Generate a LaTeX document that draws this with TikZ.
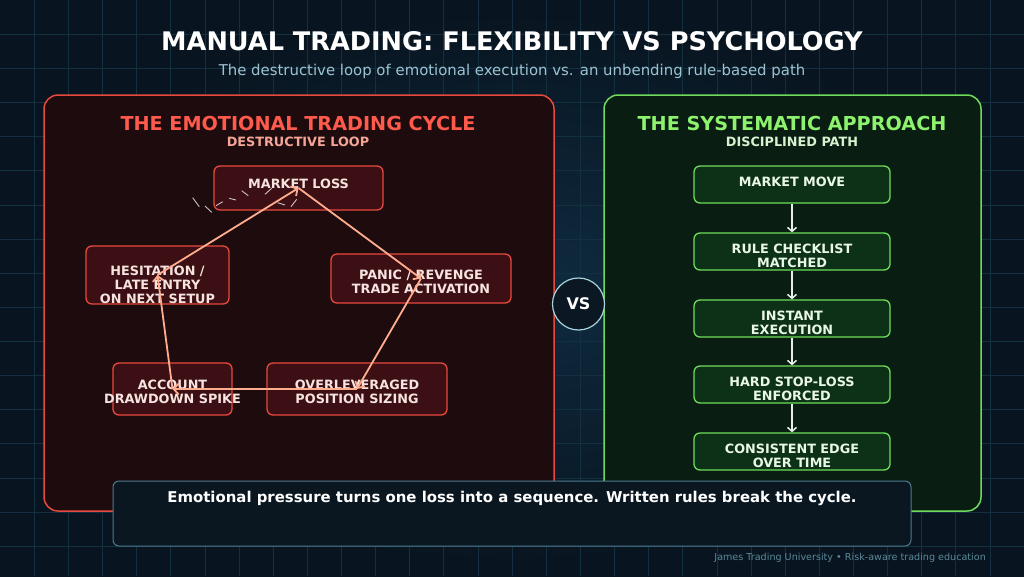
\documentclass[tikz,border=0pt]{standalone}
\usepackage{fontspec}
\setmainfont{DejaVu Sans}
\usetikzlibrary{arrows.meta}

\definecolor{bgedge}{HTML}{08141F}
\definecolor{bgmid}{HTML}{0F2B40}
\definecolor{gridcol}{HTML}{12303F}
\definecolor{lossline}{HTML}{E8493D}
\definecolor{lossbg}{HTML}{1D0B0D}
\definecolor{lossfill}{HTML}{3B0F13}
\definecolor{losstitle}{HTML}{FF5A4C}
\definecolor{losssub}{HTML}{F4A597}
\definecolor{losstext}{HTML}{F7E4E0}
\definecolor{cyclecol}{HTML}{FFAD8E}
\definecolor{sysline}{HTML}{6EDC5A}
\definecolor{sysbg}{HTML}{0A1D12}
\definecolor{sysfill}{HTML}{0C3116}
\definecolor{systitle}{HTML}{8DF26E}
\definecolor{syssub}{HTML}{D6F2CE}
\definecolor{systext}{HTML}{E9F7E5}
\definecolor{flowcol}{HTML}{E6F0E6}
\definecolor{vsline}{HTML}{A6D4DD}
\definecolor{vsfill}{HTML}{0B1722}
\definecolor{noteline}{HTML}{4D7C90}
\definecolor{notefill}{HTML}{0B1720}
\definecolor{subcol}{HTML}{9CC3D2}
\definecolor{footcol}{HTML}{5B8A9A}

\newcommand\boxfont{\bfseries\fontsize{12.8}{14}\selectfont}
\newcommand\headfont{\bfseries\fontsize{19.2}{22}\selectfont}

\tikzset{gridline/.style={draw=gridcol, line width=0.5pt}}
\tikzset{panel/.style={rounded corners=14pt, line width=1.5pt}}

\begin{document}
\begin{tikzpicture}[
		x=1pt, y=-1pt,
		cyclebox/.style 2 args={draw=lossline, fill=lossfill, rounded corners=6pt,
			line width=1.3pt, minimum width=#1, minimum height=#2, inner sep=0pt},
		cycletext/.style={text=losstext, font=\boxfont, align=center, inner sep=0pt, anchor=north},
		cyclearrow/.style={draw=cyclecol, line width=1.8pt,
			-{Straight Barb[length=5pt, width=11pt, line width=1.8pt]}},
		flowbox/.style={draw=sysline, fill=sysfill, rounded corners=6pt,
			line width=1.3pt, minimum width=196, minimum height=37, inner sep=0pt},
		flowtext/.style={text=systext, font=\boxfont, align=center, inner sep=0pt, anchor=north},
		flowarrow/.style={draw=flowcol, line width=1.5pt,
			-{Straight Barb[length=4pt, width=9pt, line width=1.5pt]}},
		sparkdash/.style={draw=white, draw opacity=0.75, line width=0.9pt}
		]
		\useasboundingbox (0,0) rectangle (1024,576);
		% background and grid
		\shade[inner color=bgmid, outer color=bgedge] (0,0) rectangle (1024,576);
		\foreach \i in {1,...,29}
		\draw[gridline] (\i*34.133,0) -- (\i*34.133,576);
		\foreach \j in {1,...,16}
		\draw[gridline] (0,\j*34.133) -- (1024,\j*34.133);

		% heading
		\node[text=white, font=\bfseries\fontsize{25.6}{30}\selectfont] (title) at (512,41)
		{MANUAL TRADING: FLEXIBILITY VS PSYCHOLOGY};
		\node[text=subcol, font=\fontsize{14.9}{17}\selectfont] (subtitle) at (512,71)
		{The destructive loop of emotional execution vs. an unbending rule-based path};

		% left panel
		\draw[panel, draw=lossline, fill=lossbg] (44,95) rectangle (554,511);
		\node[text=losstitle, font=\headfont] (lossHead) at (298,124) {THE EMOTIONAL TRADING CYCLE};
		\node[text=losssub, font=\boxfont] (lossSub) at (298,142) {DESTRUCTIVE LOOP};

		\node[cyclebox={169}{44}] (loss) at (298.5,188) {};
		\node[cyclebox={180}{49}] (panic) at (421,278.5) {};
		\node[cyclebox={180}{52}] (lever) at (357,389) {};
		\node[cyclebox={119}{52}] (drawdown) at (172.5,389) {};
		\node[cyclebox={143}{58}] (hesitate) at (157.5,275) {};

		\node[cycletext] (lossT) at ([yshift=9pt]loss.center) {MARKET LOSS};
		\node[cycletext] (panicT) at ([yshift=9pt]panic.center) {PANIC / REVENGE\\TRADE ACTIVATION};
		\node[cycletext] (leverT) at ([yshift=9pt]lever.center) {OVERLEVERAGED\\POSITION SIZING};
		\node[cycletext] (drawdownT) at ([yshift=9pt]drawdown.center) {ACCOUNT\\DRAWDOWN SPIKE};
		\node[cycletext] (hesitateT) at ([yshift=9.5pt]hesitate.center) {HESITATION /\\LATE ENTRY\\ON NEXT SETUP};

		% little dashes by the loss box
		\foreach \xa/\ya/\xb/\yb in {192.7/197.7/199.3/206.7, 205/206/211.7/212.3,
			216/205.7/222.7/201.7, 229.3/198.3/236/200, 241.7/190.7/248.3/195.7,
			265/194.3/271.7/188.3, 277.7/202.7/285/205, 296.7/199.3/291/206.7}
		\draw[sparkdash] (\xa,\ya) -- (\xb,\yb);

		% the loop
		\draw[cyclearrow] (loss.center) -- (panic.center);
		\draw[cyclearrow] (panic.center) -- (lever.center);
		\draw[cyclearrow] (lever.center) -- (drawdown.center);
		\draw[cyclearrow] (drawdown.center) -- (hesitate.center);
		\draw[cyclearrow] (hesitate.center) -- (loss.center);

		% right panel
		\draw[panel, draw=sysline, fill=sysbg] (604,95) rectangle (981,511);
		\node[text=systitle, font=\headfont] (sysHead) at (792,124) {THE SYSTEMATIC APPROACH};
		\node[text=syssub, font=\boxfont] (sysSub) at (792,142) {DISCIPLINED PATH};

		\node[flowbox] (move) at (792,184.5) {};
		\node[flowbox] (check) at (792,251.5) {};
		\node[flowbox] (exec) at (792,318.5) {};
		\node[flowbox] (stop) at (792,384.5) {};
		\node[flowbox] (edge) at (792,451.5) {};

		\node[flowtext] (moveT) at ([yshift=-11.5pt]move.north) {MARKET MOVE};
		\node[flowtext] (checkT) at ([yshift=-11.5pt]check.north) {RULE CHECKLIST\\MATCHED};
		\node[flowtext] (execT) at ([yshift=-11.5pt]exec.north) {INSTANT\\EXECUTION};
		\node[flowtext] (stopT) at ([yshift=-11.5pt]stop.north) {HARD STOP-LOSS\\ENFORCED};
		\node[flowtext] (edgeT) at ([yshift=-11.5pt]edge.north) {CONSISTENT EDGE\\OVER TIME};

		\draw[flowarrow] (move) -- (check);
		\draw[flowarrow] (check) -- (exec);
		\draw[flowarrow] (exec) -- (stop);
		\draw[flowarrow] (stop) -- (edge);

		% versus badge
		\node[circle, draw=vsline, fill=vsfill, line width=1.2pt, minimum size=52,
		text=white, font=\bfseries\fontsize{16}{18}\selectfont] (vs) at (578.5,304) {VS};

		% bottom note and footer
		\node[draw=noteline, fill=notefill, rounded corners=6pt, line width=1pt,
		minimum width=798, minimum height=65, inner sep=0pt] (note) at (512,513.5) {};
		\node[text=white, font=\bfseries\fontsize{14.9}{17}\selectfont] (noteT) at ([yshift=-17.5pt]note.north)
		{Emotional pressure turns one loss into a sequence. Written rules break the cycle.};
		\node[text=footcol, font=\fontsize{9.6}{11}\selectfont, anchor=east, inner sep=0pt] (foot) at (986,558)
		{James Trading University • Risk-aware trading education};
	\end{tikzpicture}
\end{document}
